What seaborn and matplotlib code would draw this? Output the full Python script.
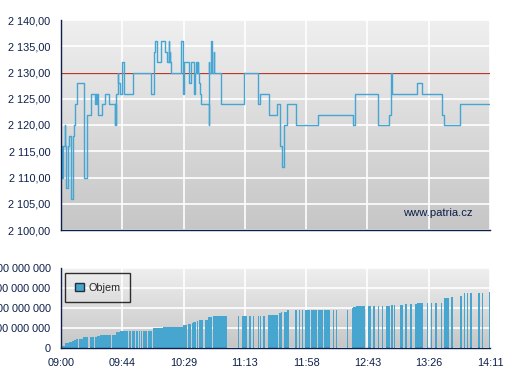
import numpy as np
import matplotlib
matplotlib.use("Agg")
import matplotlib.pyplot as plt
import seaborn as sns
from matplotlib.colors import LinearSegmentedColormap
from matplotlib.patches import Patch
from matplotlib.ticker import FuncFormatter

# time axis: minutes after 09:00
tick_labels = ["09:00", "09:44", "10:29", "11:13", "11:58", "12:43", "13:26", "14:11"]
session_len = 311

# price (step, value held until next time)
price_time = [0, 0.7, 1.5, 2.7, 3.2, 3.6, 5.1, 5.6, 7.0, 8.5, 9.7, 10.4, 11.4, 16.4, 18.8,
              21.5, 24.9, 25.3, 25.8, 26.2, 26.6, 29.5, 31.7, 34.6, 38.9, 39.4, 39.8, 40.1,
              41.1, 41.6, 42.5, 44.0, 45.4, 52.2, 65.5, 67.2, 67.9, 69.6, 72.5, 75.6, 76.5,
              78.0, 78.3, 78.8, 79.2, 79.7, 87.2, 88.6, 88.9, 89.4, 92.5, 94.2, 96.2, 97.1,
              98.1, 98.6, 99.0, 99.3, 100.0, 100.8, 101.2, 107.0, 107.3, 107.6, 109.0, 109.3,
              110.7, 111.0, 116.2, 132.7, 143.0, 144.5, 151.0, 156.8, 159.0, 160.0, 161.9,
              164.1, 170.6, 186.5, 211.9, 213.4, 230.0, 238.0, 239.5, 239.7, 258.3, 261.9,
              276.4, 277.9, 289.5, 311]
price_value = [2116, 2110, 2116, 2120, 2116, 2108, 2116, 2118, 2106, 2118, 2120, 2124, 2128,
               2110, 2122, 2126, 2124, 2126, 2124, 2126, 2122, 2124, 2126, 2124, 2120, 2124,
               2120, 2126, 2130, 2128, 2126, 2132, 2126, 2130, 2126, 2134, 2136, 2132, 2136,
               2134, 2132, 2136, 2132, 2134, 2132, 2130, 2136, 2126, 2130, 2132, 2128, 2132,
               2126, 2130, 2132, 2130, 2132, 2130, 2128, 2126, 2124, 2120, 2132, 2130, 2136,
               2130, 2134, 2130, 2124, 2130, 2124, 2126, 2122, 2124, 2116, 2112, 2120, 2124,
               2120, 2122, 2120, 2126, 2120, 2122, 2130, 2126, 2128, 2126, 2122, 2120, 2124,
               2124]
prev_close = 2130

# cumulative volume bars (start, end, height in 100 mil.)
vol_start = [0, 2.9, 6.0, 7.7, 9.4, 10.9, 13.0, 15.9, 21.0, 24.6, 26.3, 28.3, 29.7, 33.6, 37.0,
             39.9, 42.8, 44.5, 49.5, 51.7, 54.1, 56.3, 58.0, 59.7, 61.1, 63.1, 66.9, 69.4, 74.2,
             77.8, 81.4, 88.7, 91.8, 94.7, 95.9, 98.4, 100.0, 104.4, 106.8, 110.4, 128.3, 131.2,
             136.5, 139.4, 143.1, 144.3, 146.2, 150.1, 158.3, 159.3, 161.7, 164.1, 169.9, 172.8,
             174.7, 176.7, 181.5, 186.5, 190.7, 197.0, 199.4, 207.1, 210.7, 211.9, 213.9, 222.3,
             226.4, 229.5, 232.4, 235.6, 239.5, 241.4, 245.5, 249.4, 253.0, 256.4, 258.3, 265.1,
             268.0, 271.4, 275.2, 277.7, 283.0, 289.3, 292.2, 294.1, 296.5, 302.4, 305.0, 310.3]
vol_end = [2.9, 6.0, 7.7, 9.4, 10.9, 12.6, 15.7, 19.3, 23.9, 26.3, 28.3, 29.5, 33.1, 36.2, 39.9,
           42.8, 44.0, 48.8, 50.5, 53.4, 55.6, 57.3, 58.7, 60.7, 62.1, 66.2, 69.4, 73.7, 77.3,
           80.9, 88.2, 91.1, 94.2, 95.4, 97.9, 99.6, 103.2, 106.8, 109.7, 120.1, 129.3, 135.1,
           137.5, 139.9, 143.8, 145.2, 147.7, 157.3, 159.3, 160.2, 164.1, 165.5, 170.8, 173.3,
           175.7, 180.5, 185.5, 190.0, 195.0, 197.9, 199.9, 208.1, 211.9, 213.9, 220.4, 224.5,
           227.6, 230.7, 233.7, 238.5, 240.4, 242.4, 247.9, 250.6, 254.5, 257.8, 262.7, 265.8,
           268.7, 272.3, 276.5, 281.1, 284.0, 290.5, 293.2, 295.1, 298.0, 303.8, 306.2, 311.0]
vol_height = [0.12, 0.25, 0.3, 0.35, 0.4, 0.45, 0.45, 0.55, 0.55, 0.55, 0.6, 0.65, 0.65, 0.65,
              0.65, 0.8, 0.85, 0.85, 0.85, 0.85, 0.85, 0.85, 0.85, 0.85, 0.85, 0.85, 1.0, 1.0,
              1.05, 1.05, 1.05, 1.15, 1.2, 1.25, 1.3, 1.35, 1.4, 1.4, 1.55, 1.6, 1.6, 1.6, 1.6,
              1.6, 1.6, 1.6, 1.6, 1.65, 1.75, 1.8, 1.8, 1.9, 1.9, 1.9, 1.9, 1.9, 1.9, 1.9, 1.9,
              1.9, 1.9, 1.9, 2.0, 2.07, 2.1, 2.1, 2.1, 2.1, 2.1, 2.1, 2.15, 2.15, 2.15, 2.18, 2.2,
              2.2, 2.25, 2.25, 2.25, 2.25, 2.25, 2.5, 2.57, 2.62, 2.75, 2.75, 2.75, 2.75, 2.75,
              2.82]

navy = "#0d1f4a"
blue = "#46a6d0"
fs = 7.8

sns.set_theme(style="white")
plt.rcParams["font.family"] = ["Liberation Sans", "DejaVu Sans"]
plt.rcParams["font.size"] = fs

fig = plt.figure(figsize=(5.07, 3.80), dpi=100)
ax = fig.add_axes([61 / 507, 1 - 230 / 380, 429 / 507, 210 / 380])
ax2 = fig.add_axes([61 / 507, 1 - 348 / 380, 429 / 507, 80 / 380])

bg = LinearSegmentedColormap.from_list("bg", ["#c6c6c6", "#efefef"])
grad = np.linspace(0, 1, 256).reshape(-1, 1)


def style_axes(a):
    a.imshow(grad, cmap=bg, origin="lower", extent=[0, 1, 0, 1], transform=a.transAxes,
             aspect="auto", zorder=-10)
    a.grid(True, color="white", linewidth=1.2)
    for s in ["top", "right"]:
        a.spines[s].set_visible(False)
    for s in ["left", "bottom"]:
        a.spines[s].set_color(navy)
        a.spines[s].set_linewidth(1.0)
    a.tick_params(axis="both", direction="out", length=5, width=1, color=navy,
                  labelcolor=navy, labelsize=fs, pad=2.5)
    a.set_xlim(0, session_len)
    a.set_xticks(np.linspace(0, session_len, len(tick_labels)))


# price chart
sns.lineplot(x=price_time, y=price_value, drawstyle="steps-post", sort=False, estimator=None,
             color="#45a5d3", linewidth=1.0, ax=ax)
ax.axhline(prev_close, color="#b03a2e", linewidth=0.9, zorder=1)
style_axes(ax)
ax.set_ylim(2100, 2140)
ax.set_yticks(range(2100, 2141, 5))
ax.yaxis.set_major_formatter(FuncFormatter(
    lambda v, p: f"{v:,.2f}".replace(",", " ").replace(".", ",")))
ax.set_xticklabels([])
ax.set_xlabel("")
ax.set_ylabel("")
ax.text(0.96, 0.081, "www.patria.cz", transform=ax.transAxes, ha="right", va="center",
        color=navy, fontsize=8.1)

# volume chart
widths = [e - s for s, e in zip(vol_start, vol_end)]
ax2.bar(vol_start, [h * 1e8 for h in vol_height], width=widths, align="edge",
        color=blue, linewidth=0, zorder=2)
style_axes(ax2)
ax2.set_ylim(0, 4e8)
ax2.set_yticks([0, 1e8, 2e8, 3e8, 4e8])
ax2.yaxis.set_major_formatter(FuncFormatter(lambda v, p: f"{v:,.0f}".replace(",", " ")))
ax2.set_xticklabels(tick_labels)
ax2.legend(handles=[Patch(facecolor=blue, edgecolor="#203040", label="Objem")],
           loc="upper left", bbox_to_anchor=(0.01, 0.94), borderaxespad=0,
           frameon=True, fancybox=False, edgecolor="black", facecolor="none",
           fontsize=fs, handlelength=0.8, handleheight=0.8, handletextpad=0.4,
           borderpad=0.9)

fig.savefig("out.png", dpi=100)
